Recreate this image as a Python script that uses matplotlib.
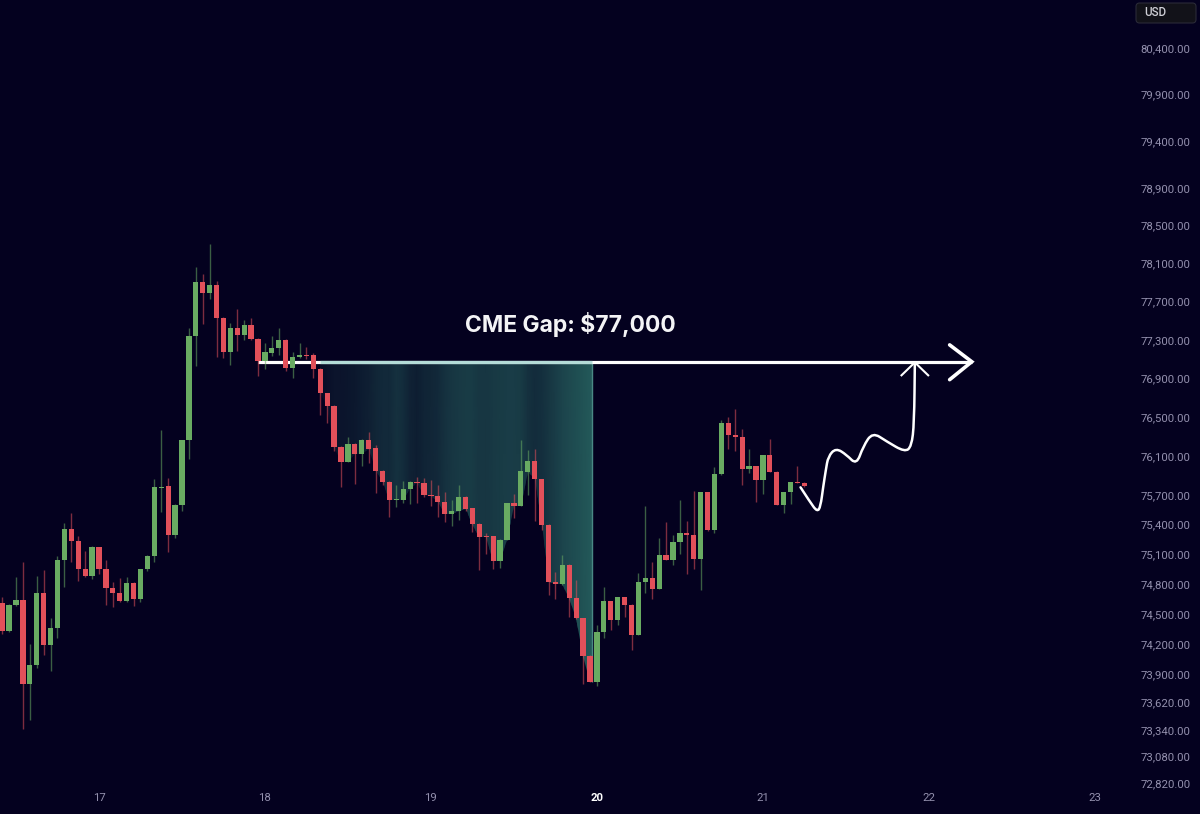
import matplotlib
matplotlib.use("Agg")
import matplotlib.pyplot as plt
import numpy as np
from matplotlib.colors import LinearSegmentedColormap
from matplotlib.patches import FancyBboxPatch, PathPatch, Polygon
from matplotlib.path import Path
from matplotlib.ticker import NullLocator

plt.rcParams['font.family'] = ['Roboto', 'DejaVu Sans']

# hourly BTC candles, first one sits 14 hours before the "17" tick
opens = [74610, 74330, 74590, 74640, 73800, 73990, 74710, 74190, 74360, 75040,
         75360, 75230, 74950, 74880, 75170, 74950, 74760, 74710, 74630, 74810,
         74650, 74950, 75080, 75770, 75790, 75290, 75600, 76260, 77340, 77900,
         77790, 77870, 77530, 77170, 77420, 77350, 77460, 77310, 77080, 77160,
         77220, 77300, 77010, 77125, 77140, 77140, 77000, 76750, 76610, 76190,
         76040, 76220, 76120, 76260, 76180, 75950, 75830, 75650, 75650, 75760,
         75830, 75820, 75705, 75695, 75630, 75510, 75535, 75685, 75565, 75405,
         75280, 75280, 75035, 75245, 75625, 75585, 75940, 76045, 75865, 75400,
         74815, 74800, 74995, 74655, 74455, 74075, 73820, 74315, 74625, 74435,
         74665, 74590, 74290, 74815, 74865, 74750, 75090, 75045, 75225, 75315,
         75295, 75050, 75730, 75350, 75915, 76440, 76315, 76295, 75965, 75995,
         75855, 76115, 75940, 75600, 75730, 75835, 75825]
highs = [74670, 74600, 74870, 75020, 74200, 74880, 74940, 74460, 75080, 75420,
         75520, 75280, 75130, 75180, 75170, 75040, 74820, 74860, 74870, 74820,
         74950, 75090, 75870, 76370, 75880, 75610, 76260, 77420, 78060, 77990,
         78310, 77920, 77540, 77480, 77620, 77510, 77530, 77320, 77270, 77340,
         77420, 77310, 77170, 77265, 77225, 77160, 77010, 76750, 76620, 76200,
         76300, 76230, 76280, 76350, 76210, 75960, 75845, 75800, 75840, 75840,
         75890, 75880, 75855, 75800, 75730, 75655, 75800, 75690, 75570, 75415,
         75320, 75285, 75250, 75625, 75715, 76260, 76165, 76170, 75870, 75405,
         74925, 75095, 75000, 74835, 74460, 74085, 74385, 74770, 74630, 74665,
         74670, 74600, 74915, 75585, 75025, 75260, 75425, 75300, 75655, 75440,
         75745, 75735, 75735, 75985, 76475, 76500, 76580, 76380, 76170, 76000,
         76115, 76270, 75950, 75730, 75830, 76000, 75830]
lows = [74300, 74320, 74580, 73350, 73440, 73960, 74090, 73930, 74260, 74770,
        75020, 74830, 74870, 74850, 74900, 74590, 74570, 74620, 74620, 74580,
        74620, 74930, 75020, 75530, 75120, 75260, 75540, 76070, 77030, 77470,
        77730, 77120, 77110, 77040, 77180, 77300, 77300, 76930, 77000, 77130,
        77140, 76980, 76900, 77110, 77105, 76900, 76520, 76440, 76150, 75780,
        76040, 75810, 76000, 76030, 75720, 75800, 75480, 75580, 75620, 75610,
        75620, 75680, 75585, 75480, 75430, 75385, 75450, 75540, 75330, 74940,
        75100, 74950, 74965, 75240, 75465, 75585, 75700, 75435, 75350, 74685,
        74650, 74790, 74465, 74450, 73800, 73815, 73775, 74260, 74335, 74390,
        74465, 74135, 74290, 74710, 74650, 74745, 75040, 74990, 75100, 74900,
        74950, 74735, 75335, 75315, 75905, 76170, 76150, 75800, 75925, 75635,
        75710, 75935, 75595, 75515, 75615, 75820, 75785]
closes = [74330, 74590, 74640, 73800, 73990, 74710, 74190, 74360, 75040, 75360,
          75230, 74950, 74880, 75170, 74950, 74760, 74710, 74630, 74810, 74650,
          74950, 75080, 75780, 75780, 75290, 75600, 76260, 77340, 77900, 77790,
          77870, 77530, 77170, 77420, 77350, 77460, 77310, 77080, 77170, 77220,
          77300, 77010, 77120, 77140, 77130, 77000, 76750, 76610, 76190, 76040,
          76220, 76120, 76260, 76170, 75950, 75830, 75650, 75665, 75760, 75830,
          75820, 75700, 75695, 75630, 75510, 75535, 75685, 75560, 75405, 75275,
          75275, 75035, 75245, 75625, 75585, 75945, 76045, 75860, 75400, 74815,
          74800, 74995, 74655, 74455, 74075, 73820, 74315, 74625, 74435, 74665,
          74590, 74290, 74815, 74865, 74750, 75090, 75045, 75225, 75315, 75295,
          75050, 75730, 75350, 75915, 76440, 76315, 76295, 75965, 75995, 75855,
          76115, 75940, 75600, 75730, 75830, 75825, 75795]

price_ticks = [80400, 79900, 79400, 78900, 78500, 78100, 77700, 77300, 76900, 76500, 76100,
               75700, 75400, 75100, 74800, 74500, 74200, 73900, 73620, 73340, 73080, 72820]
day_labels = ["17", "18", "19", "20", "21", "22", "23"]

gap_price = 77073
gap_first_candle = 46
gap_right_hour = 71.3
# brightness of the shaded gap at each candle, it is stripy in the picture
gap_shade = [0.10, 0.15, 0.20, 0.20, 0.22, 0.24, 0.28, 0.32, 0.38, 0.42,
             0.42, 0.50, 0.45, 0.34, 0.30, 0.36, 0.38, 0.42, 0.50, 0.55,
             0.58, 0.60, 0.60, 0.55, 0.55, 0.58, 0.60, 0.62, 0.62, 0.60,
             0.50, 0.45, 0.48, 0.55, 0.62, 0.70, 0.75, 0.80, 0.85, 0.90, 0.92]

sketch_hours = [101.44, 102.79, 103.85, 104.33, 104.72, 105.10, 105.44, 106.55, 108.09,
                109.54, 110.50, 111.85, 113.87, 116.53, 117.49, 117.87, 117.97]
sketch_prices = [75780, 75633, 75530, 75583, 75786, 75958, 76096, 76182, 76113,
                 76010, 76199, 76344, 76251, 76141, 76199, 76440, 77066]

BG = "#04011f"
GREEN = "#69ab62"
RED = "#e2505a"
AXIS_TEXT = "#9390ad"

fig = plt.figure(figsize=(12, 8.14), dpi=100, facecolor=BG)
ax = fig.add_axes([0, 0, 1, 1], facecolor=BG)
ax.set_yscale("log")
ax.set_xlim(-14.31, 159.2)
ax.set_ylim(72518, 80921)

hours = [i - 14 for i in range(len(opens))]
body_low = [min(o, c) for o, c in zip(opens, closes)]

# shaded gap, a horizontal colour ramp cut off at the bottom of the candle bodies
gap_end = gap_first_candle + len(gap_shade)
gap_cmap = LinearSegmentedColormap.from_list("gap", [BG, "#26615f"])
mesh_x, mesh_y = np.meshgrid(hours[gap_first_candle:gap_end], [min(body_low), gap_price])
mesh = ax.pcolormesh(mesh_x, mesh_y, np.array([gap_shade, gap_shade]), cmap=gap_cmap, vmin=0, vmax=1,
                     shading="gouraud", zorder=1)
outline = [(hours[i], body_low[i]) for i in range(gap_first_candle, 86)]
outline += [(gap_right_hour, body_low[85]), (gap_right_hour, gap_price), (hours[gap_first_candle], gap_price)]
clip = Polygon(outline, closed=True, transform=ax.transData, fill=False, linewidth=0)
ax.add_patch(clip)
mesh.set_clip_path(clip)
ax.plot([gap_right_hour, gap_right_hour], [gap_price, body_low[85]], color="#4a8885",
        lw=1, zorder=1, solid_capstyle="butt")

# the level line
ax.plot([23.0, 126.2], [gap_price, gap_price], color="white", lw=2.3, zorder=2,
        solid_capstyle="butt")
ax.plot([hours[gap_first_candle], gap_right_hour], [gap_price, gap_price], color="#b4dcd8",
        lw=2.3, zorder=2, solid_capstyle="butt")

# candles
colors = [GREEN if c >= o else RED for o, c in zip(opens, closes)]
ax.vlines(hours, lows, highs, colors=colors, lw=1, alpha=0.55, zorder=3)
ax.bar(hours, [abs(c - o) for o, c in zip(opens, closes)], bottom=body_low, width=0.76,
       color=colors, linewidth=0, zorder=4)

# arrow head of the level line
ax.plot([123.0, 126.2, 123.0], [77248, gap_price, 76887], color="white", lw=2.6,
        solid_capstyle="round", solid_joinstyle="miter", zorder=5)

# hand drawn path, points used as curve controls
verts = [(sketch_hours[0], sketch_prices[0])]
codes = [Path.MOVETO]
for k in range(1, len(sketch_hours) - 1):
    verts.append((sketch_hours[k], sketch_prices[k]))
    codes.append(Path.CURVE3)
    verts.append(((sketch_hours[k] + sketch_hours[k + 1]) / 2,
                  (sketch_prices[k] + sketch_prices[k + 1]) / 2))
    codes.append(Path.CURVE3)
verts.append((sketch_hours[-1], sketch_prices[-1]))
codes.append(Path.LINETO)
ax.add_patch(PathPatch(Path(verts, codes), fill=False, edgecolor="white", lw=1.8,
                       capstyle="round", joinstyle="round", zorder=5))
ax.plot([116.04, 117.97, 119.9], [76932, 77066, 76932], color="white", lw=1.5, zorder=5)

ax.text(68.1, 77457, "CME Gap: $77,000", color="#f4f4f6", fontsize=16.5, fontweight="bold",
        family=["Inter", "DejaVu Sans"], ha="center", va="center", zorder=6)

# axes are drawn inside the picture, like on the trading screen
for side in ax.spines.values():
    side.set_visible(False)
ax.yaxis.tick_right()
ax.yaxis.set_minor_locator(NullLocator())
ax.set_yticks(price_ticks)
ax.set_yticklabels([f"{p:,.2f}" for p in price_ticks])
ax.tick_params(axis="y", length=0, pad=-43, labelsize=8.2, labelcolor=AXIS_TEXT)
ax.set_xticks([24 * d for d in range(len(day_labels))])
ax.set_xticklabels(day_labels)
ax.tick_params(axis="x", length=0, pad=-15, labelsize=8.2, labelcolor=AXIS_TEXT)
ax.get_xticklabels()[3].set_color("white")
ax.get_xticklabels()[3].set_fontweight("bold")

# USD box top right
box = FancyBboxPatch((1136 / 1200, 1 - 23 / 814), 60 / 1200, 20 / 814,
                     boxstyle="round,pad=0,rounding_size=0.003", mutation_aspect=1.47,
                     transform=fig.transFigure, facecolor="#121219", edgecolor="#2a2a38", lw=0.8)
fig.patches.append(box)
fig.text(1144 / 1200, 1 - 12.5 / 814, "USD", color="#cfcfd6", fontsize=8.4, fontweight="medium",
         ha="left", va="center")

plt.savefig("out.png", dpi=100, facecolor=BG)
